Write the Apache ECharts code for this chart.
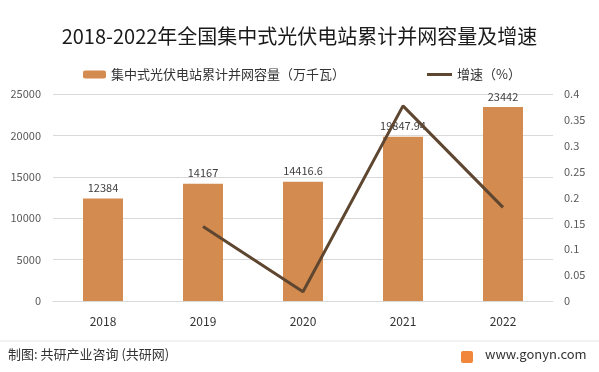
<!DOCTYPE html>
<html><head><meta charset="utf-8">
<script src="https://cdn.jsdelivr.net/npm/echarts@6/dist/echarts.min.js"></script>
<style>html,body{margin:0;padding:0;background:#fff}#c{width:599px;height:372px}</style>
</head><body><div id="c"></div>
<script>
var categories = ['2018','2019','2020','2021','2022'];
var capacity = [12384, 14167, 14416.6, 19847.94, 23442];
var growth = ['-', 0.144, 0.018, 0.377, 0.181];
var leftTicks = {min:0, max:25000, interval:5000};
var rightTicks = {min:0, max:0.4, interval:0.05};
var barName = '集中式光伏电站累计并网容量（万千瓦）';
var lineName = '增速（%）';
var FONT = '"Noto Sans CJK SC", "Noto Sans", sans-serif';

var chart = echarts.init(document.getElementById('c'), null, {renderer:'canvas'});
chart.setOption({
  backgroundColor:'#fff',
  animation:false,
  textStyle:{fontFamily:FONT},
  title:{text:'2018-2022年全国集中式光伏电站累计并网容量及增速', left:'center', top:21,
    textStyle:{fontSize:20, fontWeight:'normal', color:'#1a1a1a', fontFamily:FONT}},
  legend:[
    {data:[barName], left:78, top:63, itemWidth:23, itemHeight:8, itemGap:6,
     textStyle:{fontSize:13, color:'#333', fontFamily:FONT}},
    {data:[{name:lineName, icon:'rect'}], left:422, top:63, itemWidth:25, itemHeight:3,
     textStyle:{fontSize:13, color:'#333', fontFamily:FONT}}
  ],
  grid:{left:53, right:46, top:94, bottom:71},
  xAxis:{type:'category', data:categories,
    axisLine:{lineStyle:{color:'#d9d9d9'}}, axisTick:{show:false},
    axisLabel:{fontSize:12, color:'#333', margin:14, fontFamily:FONT}},
  yAxis:[
    {type:'value', min:leftTicks.min, max:leftTicks.max, interval:leftTicks.interval,
     axisLine:{show:false}, axisTick:{show:false},
     axisLabel:{fontSize:11, color:'#595959', margin:12, formatter:function(v){return String(v);}},
     splitLine:{lineStyle:{color:'#d9d9d9'}}},
    {type:'value', min:rightTicks.min, max:rightTicks.max, interval:rightTicks.interval,
     axisLine:{show:false}, axisTick:{show:false},
     axisLabel:{fontSize:11, color:'#595959', margin:11, formatter:function(v){return String(+v.toFixed(2));}},
     splitLine:{show:false}}
  ],
  series:[
    {name:barName, type:'bar', data:capacity, barWidth:'40%',
     itemStyle:{color:'#D38B4F'},
     label:{show:true, position:'top', distance:5, fontSize:11, color:'#404040'}},
    {name:lineName, type:'line', yAxisIndex:1, data:growth, symbol:'none',
     lineStyle:{color:'#5E4630', width:3}, itemStyle:{color:'#5E4630'}}
  ],
  graphic:[
    {type:'line', shape:{x1:0, y1:341, x2:599, y2:341}, style:{stroke:'#e6e6e6', lineWidth:1}},
    {type:'text', left:8, top:348, style:{text:'制图: 共研产业咨询 (共研网)', fontSize:13, fill:'#333', fontFamily:FONT}},
    {type:'rect', shape:{x:461, y:351, width:12, height:12, r:2}, style:{fill:'#F0873A'}},
    {type:'text', left:485, top:348, style:{text:'www.gonyn.com', fontSize:13, fill:'#333', fontFamily:FONT}}
  ]
});
</script></body></html>
